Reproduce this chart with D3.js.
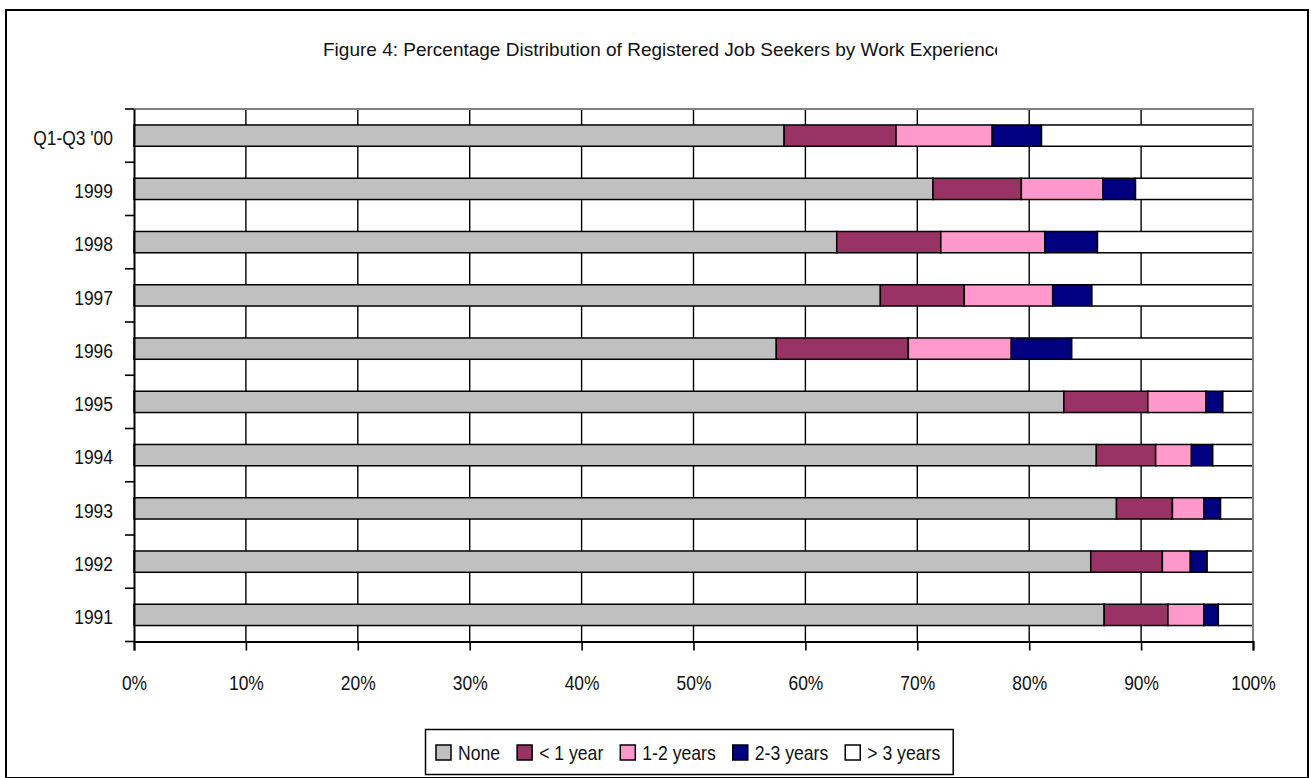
<!DOCTYPE html>
<html><head><meta charset="utf-8">
<script src="https://cdn.jsdelivr.net/npm/d3@7/dist/d3.min.js"></script>
<style>
body{margin:0;background:#fff;overflow:hidden}
text{font-family:'Liberation Sans Narrow','Arial Narrow','Liberation Sans',Arial,sans-serif;fill:#111}
</style>
</head><body><svg id="c" width="1311" height="778"></svg>
<script>
const categories = ["Q1-Q3 '00","1999","1998","1997","1996","1995","1994","1993","1992","1991"];
const seriesNames = ["None","< 1 year","1-2 years","2-3 years","> 3 years"];
const noneVals   = [58.1, 71.4, 62.8, 66.7, 57.4, 83.1, 86.0, 87.8, 85.5, 86.7];
const under1Vals = [10.0,  7.9,  9.3,  7.5, 11.8,  7.5,  5.3,  5.0,  6.4,  5.7];
const y1to2Vals  = [ 8.6,  7.3,  9.3,  7.9,  9.2,  5.2,  3.2,  2.8,  2.5,  3.2];
const y2to3Vals  = [ 4.4,  2.9,  4.7,  3.5,  5.4,  1.5,  1.9,  1.5,  1.5,  1.3];
const over3Vals  = [18.9, 10.5, 13.9, 14.4, 16.2,  2.7,  3.6,  2.9,  4.1,  3.1];
const tickValues = [0,10,20,30,40,50,60,70,80,90,100];
const titleText = "Figure 4: Percentage Distribution of Registered Job Seekers by Work Experience";
const colors = ["#C0C0C0","#993366","#FF99CC","#000080","#FFFFFF"];

const seriesArrays = [noneVals, under1Vals, y1to2Vals, y2to3Vals, over3Vals];
const rows = categories.map((c,i)=>{
  const r = {cat:c};
  seriesNames.forEach((s,j)=>{ r[s] = seriesArrays[j][i]; });
  return r;
});

const SX = 0.85; // horizontal condensing to mimic a narrow face
const SXL = 0.86;
const svg = d3.select("#c");
const L = 134, R = 1253, T = 109, B = 641.5;

const x = d3.scaleLinear().domain([0,100]).range([L,R]);
const y = d3.scaleBand().domain(categories).range([T,B]).paddingInner(0.6).paddingOuter(0.3);
const color = d3.scaleOrdinal().domain(seriesNames).range(colors);

// outer frame
svg.append("rect").attr("x",6).attr("y",10).attr("width",1302).attr("height",768)
  .attr("fill","#fff").attr("stroke","#000").attr("stroke-width",2);

// title (clipped like the reference)
svg.append("clipPath").attr("id","tclip").append("rect")
  .attr("x",0).attr("y",0).attr("width",997).attr("height",100);
svg.append("text").attr("clip-path","url(#tclip)")
  .attr("x",323).attr("y",56).attr("font-size",19).text(titleText);

// gridlines
svg.append("g").selectAll("line").data(tickValues.filter(t=>t>0 && t<100)).join("line")
  .attr("x1",d=>x(d)).attr("x2",d=>x(d)).attr("y1",T).attr("y2",B)
  .attr("stroke","#000").attr("stroke-width",1.4);

// bars
const stack = d3.stack().keys(seriesNames)(rows);
svg.append("g").selectAll("g").data(stack).join("g")
  .attr("fill",d=>color(d.key))
  .selectAll("rect").data(d=>d).join("rect")
  .attr("x",d=>x(d[0])).attr("width",d=>x(d[1])-x(d[0]))
  .attr("y",d=>y(d.data.cat)).attr("height",y.bandwidth())
  .attr("stroke","#000").attr("stroke-width",1.5);

// plot border top/right (gray)
svg.append("path").attr("d",`M${L},${T}H${R}V${B}`)
  .attr("fill","none").attr("stroke","#808080").attr("stroke-width",2);

const FF = "'Liberation Sans Narrow','Arial Narrow','Liberation Sans',Arial,sans-serif";

// x axis
const xAxis = d3.axisBottom(x).tickValues(tickValues).tickFormat(d=>d+"%").tickSize(9).tickPadding(25);
const gx = svg.append("g").attr("transform",`translate(0,${B})`).call(xAxis);
gx.select(".domain").attr("stroke","#000").attr("stroke-width",2);
gx.selectAll(".tick line").attr("stroke","#000").attr("stroke-width",1.6);
gx.selectAll(".tick text").attr("font-size",20.5).attr("fill","#111").attr("font-family",FF)
  .attr("transform",`scale(${SX},1)`);

// y axis
const yAxis = d3.axisLeft(y).tickSize(0).tickPadding(21);
const gy = svg.append("g").attr("transform",`translate(${L},0)`).call(yAxis);
gy.select(".domain").attr("stroke","#000").attr("stroke-width",2);
gy.selectAll(".tick text").attr("font-size",20.5).attr("fill","#111").attr("font-family",FF)
  .attr("x",-21/SX).attr("dy","0.45em").attr("transform",`scale(${SX},1)`);
// category boundary ticks
const step = y.step();
const bounds = d3.range(categories.length+1).map(i=>T+i*step);
svg.append("g").selectAll("line").data(bounds).join("line")
  .attr("x1",L-9).attr("x2",L).attr("y1",d=>d).attr("y2",d=>d)
  .attr("stroke","#000").attr("stroke-width",1.6);

// legend
const lg = svg.append("g");
const lgBox = lg.append("rect").attr("x",425.5).attr("y",729.5).attr("height",45)
  .attr("fill","#fff").attr("stroke","#000").attr("stroke-width",1.5);
let cx = 436;
const gapAfter = 17;
seriesNames.forEach(s=>{
  lg.append("rect").attr("x",cx).attr("y",745).attr("width",15).attr("height",15)
    .attr("fill",color(s)).attr("stroke","#000").attr("stroke-width",1.5);
  const t = lg.append("text").attr("x",0).attr("y",0).attr("font-size",20.5).text(s)
    .attr("transform",`translate(${cx+22},760) scale(${SXL},1)`);
  cx += 22 + t.node().getComputedTextLength()*SXL + gapAfter;
});
lgBox.attr("width", cx - gapAfter + 13 - 425.5);
</script></body></html>
